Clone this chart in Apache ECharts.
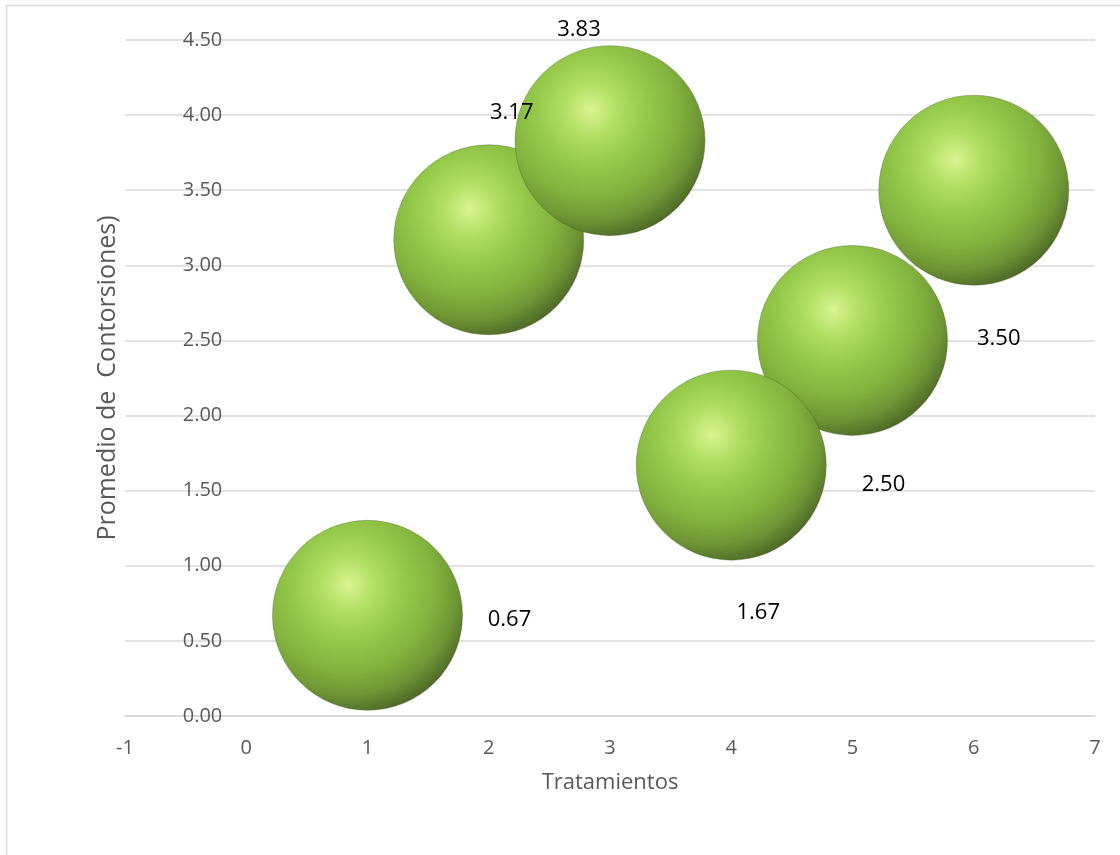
<!DOCTYPE html>
<html>
<head>
<meta charset="utf-8">
<script src="https://cdn.jsdelivr.net/npm/echarts@6/dist/echarts.min.js"></script>
<style>
  html, body { margin: 0; padding: 0; background: #ffffff; }
  #chart { width: 1120px; height: 855px; }
</style>
</head>
<body>
<div id="chart"></div>
<script>
// Treatments and the mean number of contortions recorded for each
const tratamientos = [1, 2, 3, 4, 5, 6];
const promedios = [0.67, 3.17, 3.83, 1.67, 2.50, 3.50];

// Axis ranges and titles
const xRange = { min: -1, max: 7, step: 1 };
const yRange = { min: 0, max: 4.5, step: 0.5 };
const xTitle = 'Tratamientos';
const yTitle = 'Promedio de  Contorsiones)';

// Where each value label sits relative to its bubble (pixels)
const labelShift = [[142, 4], [23, -127], [-31, -111], [27, 148], [31, 144], [25, 149]];
// Painting order: later entries are drawn above earlier ones
const paintOrder = [5, 4, 3, 0, 1, 2];

const FONT = 'Open Sans';
const GREY_TEXT = '#595959';
const GRID_LINE = '#d9d9d9';

// Plot box; the vertical axis crosses the horizontal one at x = 0
const plot = { left: 125, right: 25, top: 40, bottom: 139 };
const plotWidth = 1120 - plot.left - plot.right;
const yAxisShift = -plotWidth * (0 - xRange.min) / (xRange.max - xRange.min);

// Glossy green sphere shading
const sphere = new echarts.graphic.RadialGradient(0.4, 0.34, 0.7, [
  { offset: 0.00, color: '#d9f491' },
  { offset: 0.20, color: '#b0df62' },
  { offset: 0.42, color: '#94c94a' },
  { offset: 0.64, color: '#82b33e' },
  { offset: 0.82, color: '#6e9634' },
  { offset: 0.94, color: '#56742b' },
  { offset: 1.00, color: '#4a6322' }
]);

const bubbleData = paintOrder.map(function (i) {
  return {
    value: [tratamientos[i], promedios[i]],
    label: { offset: labelShift[i] }
  };
});

const chart = echarts.init(document.getElementById('chart'), null, { renderer: 'canvas' });

chart.setOption({
  backgroundColor: '#ffffff',
  animation: false,
  graphic: [{
    type: 'rect',
    silent: true,
    shape: { x: 6.5, y: 5.5, width: 1300, height: 1000 },
    style: { fill: 'none', stroke: GRID_LINE, lineWidth: 1.5 }
  }],
  grid: {
    left: plot.left, right: plot.right, top: plot.top, bottom: plot.bottom,
    containLabel: false,
    outerBoundsMode: 'none'
  },
  xAxis: {
    type: 'value',
    min: xRange.min,
    max: xRange.max,
    interval: xRange.step,
    name: xTitle,
    nameLocation: 'middle',
    nameGap: 56,
    nameTextStyle: { fontFamily: FONT, fontSize: 22, color: GREY_TEXT },
    axisLine: { show: true, onZero: false, lineStyle: { color: GRID_LINE, width: 1.5 } },
    axisTick: { show: false },
    splitLine: { show: false },
    axisLabel: { fontFamily: FONT, fontSize: 20, color: GREY_TEXT, margin: 22 }
  },
  yAxis: {
    type: 'value',
    min: yRange.min,
    max: yRange.max,
    interval: yRange.step,
    offset: yAxisShift,
    name: yTitle,
    nameLocation: 'middle',
    nameGap: 126,
    nameRotate: 90,
    nameTextStyle: { fontFamily: FONT, fontSize: 25, color: GREY_TEXT },
    axisLine: { show: false, onZero: false },
    axisTick: { show: false },
    splitLine: { show: true, lineStyle: { color: GRID_LINE, width: 1.5 } },
    axisLabel: {
      fontFamily: FONT, fontSize: 20, color: GREY_TEXT, margin: 24,
      formatter: function (v) { return v.toFixed(2); }
    }
  },
  series: [{
    type: 'scatter',
    symbol: 'circle',
    symbolSize: 190,
    data: bubbleData,
    itemStyle: {
      color: sphere,
      opacity: 1,
      borderColor: 'rgba(70,95,25,0.35)',
      borderWidth: 1
    },
    label: {
      show: true,
      position: 'inside',
      fontFamily: FONT,
      fontSize: 22,
      color: '#000000',
      formatter: function (p) { return p.value[1].toFixed(2); }
    },
    emphasis: { disabled: true }
  }]
});
</script>
</body>
</html>
